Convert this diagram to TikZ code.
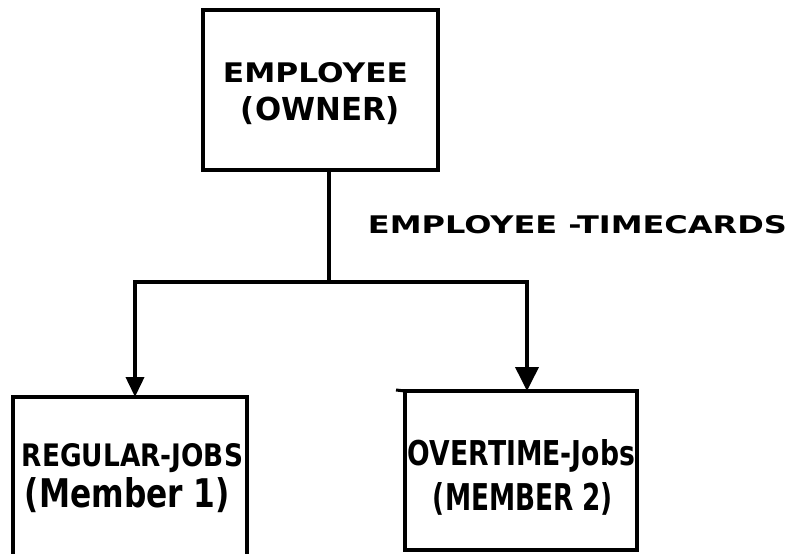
\documentclass[tikz,border=0pt]{standalone}
\usepackage{fontspec}
\setmainfont{DejaVu Sans}
\usetikzlibrary{arrows.meta,calc}
% hand-lettered line: stretched to a given width and height
\newcommand{\lettering}[3]{\resizebox{#1pt}{#2pt}{#3}}
\begin{document}
\begin{tikzpicture}[x=1pt,y=-1pt,
  recbox/.style={draw,line width=3.8pt,inner sep=0pt,outer sep=0pt},
  txt/.style={inner sep=0pt,font=\bfseries},
  link/.style={line width=3.8pt},
  tipsmall/.style={link,-{Triangle[length=20pt,width=18pt]}},
  tipbig/.style={link,-{Triangle[length=24pt,width=23pt]}}]
\useasboundingbox[fill=white] (0,0) rectangle (793,554);

% record boxes
\node[recbox,minimum width=235pt,minimum height=160pt] (owner) at (320.5,90) {};
\node[recbox,minimum width=234pt,minimum height=161pt] (regular) at (130,477.5) {};
\node[recbox,minimum width=232pt,minimum height=159pt] (overtime) at (521,470.5) {};
% pen overrun at the top left corner of the second member box
\draw[line width=3pt] (overtime.north west) -- ++(-9,-1);

% box texts
\node[txt] (ownerA) at (315.5,73) {\lettering{185}{20}{EMPLOYEE}};
\node[txt] (ownerB) at (320.5,111) {\lettering{159}{24}{(OWNER)}};
\node[txt] (regA) at (132.5,458.5) {\lettering{221}{23}{REGULAR-JOBS}};
\node[txt] (regB) at (127.5,495.5) {\lettering{205}{30}{(Member 1)}};
\node[txt] (ovtA) at (521.5,456) {\lettering{227}{26}{OVERTIME-Jobs}};
\node[txt] (ovtB) at (523,499) {\lettering{180}{28}{(MEMBER 2)}};

% set name
\node[txt] (setname) at (577.5,225) {\lettering{419}{18}{EMPLOYEE -TIMECARDS}};

% owner-to-member connectors
\coordinate (split) at (329,282);
\draw[link] (owner.south -| split) -- (split);
\draw[tipsmall] (split) -| ($(regular.north)+(5,0)$);
\draw[tipbig] (split) -| ($(overtime.north)+(6,0)$);
\end{tikzpicture}
\end{document}
